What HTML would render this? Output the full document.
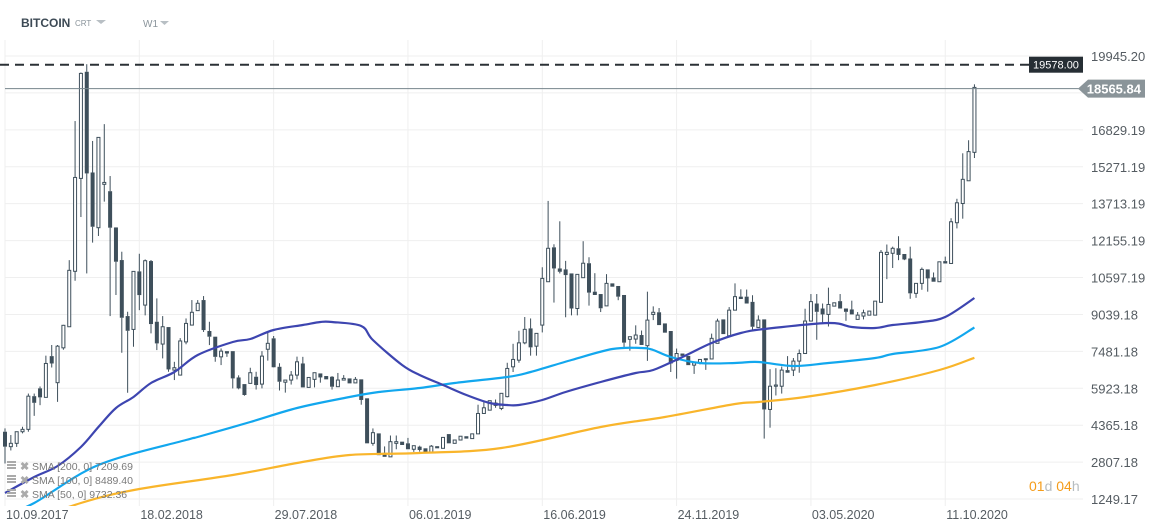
<!DOCTYPE html>
<html><head><meta charset="utf-8">
<style>
html,body{margin:0;padding:0;background:#fff;}
body{width:1151px;height:529px;overflow:hidden;position:relative;font-family:"Liberation Sans",sans-serif;}
svg{position:absolute;left:0;top:0;}
</style></head>
<body>
<svg id="chart" width="1151" height="529" viewBox="0 0 1151 529">
  <g id="grid"></g>
  <g id="candles"></g>
  <g id="smas"></g>
  <g id="yaxis"></g>
  <g id="xaxis"></g>
  <g>
    <text x="21" y="27" font-size="12" font-weight="bold" fill="#3d4a55">BITCOIN</text>
    <text x="75" y="26" font-size="8" fill="#8a949b">CRT</text>
    <path d="M96 20 L106 20 L101 24 Z" fill="#b8bfc4"/>
    <text x="143" y="27" font-size="10" fill="#8a949b">W1</text>
    <path d="M160 21 L169 21 L164.5 25 Z" fill="#b8bfc4"/>
  </g>
  <g font-size="14">
    <text x="1029" y="491"><tspan fill="#f59c1a">01</tspan><tspan fill="#b6bcc0">d </tspan><tspan fill="#f59c1a">04</tspan><tspan fill="#b6bcc0">h</tspan></text>
  </g>
  <g id="legend" font-size="10.5" fill="#7a7a7a"></g>
</svg>
<script>
const NS='http://www.w3.org/2000/svg';
// ---- data ----
const opens=[4090,3460,3600,4090,4190,5590,5920,5540,7280,6160,7630,8520,10860,14780,19280,15030,12700,14530,14240,12710,11334,8970,8407,10856,9434,11292,8731,7789,8506,6690,6480,7880,8590,9200,9646,8340,8100,7250,7490,7490,6380,6100,6130,6410,
6100,7570,8030,6830,6180,6270,6480,6970,5960,6300,6550,6440,6410,5990,6270,6340,6150,6300,5500,3600,4020,3200,3030,3600,3670,3600,3350,3460,3390,3200,3480,3390,3990,3600,3740,3900,3800,4000,4860,5000,5200,5070,
5570,6830,7110,7840,8450,7700,8590,10420,11870,10980,10940,10770,9290,10590,11200,10000,9900,9400,10350,10240,9860,7990,8000,8170,7720,9040,9130,8660,8340,7100,7390,7290,6900,7000,7140,7160,7820,8830,8140,9220,
9790,9790,9570,8490,8830,5030,6010,6010,6690,6690,7070,7390,8760,9500,9290,9040,9390,9600,9290,9250,8830,8970,9010,9010,9550,11570,11620,11830,11590,11400,9930,10350,10940,10600,10420,11290,11190,12910,13720,14680,15880];
const highs=[4230,3950,4100,4300,5700,5700,6000,7300,7750,7750,8600,11330,17200,19250,19600,16360,16510,17070,14880,12713,11686,9153,10856,11600,11360,11334,9716,8970,8506,7040,8040,8870,9646,9646,9815,8730,8100,7605,7490,7490,6470,6100,6790,6620,
7490,8300,8130,6980,6270,6650,7260,7250,6380,6580,6550,6440,6440,6570,6480,6340,6400,6300,5500,4230,4020,3470,3930,3930,3670,3830,3500,3500,3390,3530,3480,3850,3990,3740,3900,3900,4000,5230,5360,5400,5450,5710,
7000,7800,8350,8930,8870,8240,11030,13830,12000,12970,11300,10770,10730,12130,11450,10780,9900,10740,10350,10240,9860,8100,8580,8360,10000,9380,9310,8660,8340,7600,7390,7290,7000,7140,7170,8230,8860,8830,9350,10350,
10100,10090,9850,9000,8830,6730,6770,6840,7280,7200,7560,9280,9900,9900,9500,10170,9530,9900,9290,9620,9140,9240,9180,9600,11760,11990,11900,12340,11360,11900,10350,11020,10940,10810,11260,11480,13100,13920,15840,16390,18750];
const lows=[2750,3300,3450,4020,4090,4760,5210,5540,6800,5350,7550,8520,10460,13150,10770,12070,12350,13800,8970,9860,7422,5734,7676,9220,9000,8240,7535,7184,6620,6270,6460,7780,8590,9200,8300,7746,7043,6902,7250,5917,5880,5610,6130,5870,
5920,7090,6800,5830,5740,6080,6300,5960,5960,5960,6160,6300,5870,5990,6270,6130,6150,5230,3600,3500,3100,3030,3030,3350,3530,3350,3240,3250,3200,3200,3390,3390,3600,3600,3740,3800,3800,4000,4860,5000,5100,5000,
5540,6610,7000,7780,7300,7300,8280,10420,9540,10770,8920,9000,9000,10590,9410,9860,9140,9400,10210,9640,7650,7510,7800,7750,7080,8800,8590,8270,6610,6330,7290,6900,6530,6930,6700,7160,7820,8210,8140,9220,
9690,9500,8380,8490,3800,4260,5620,5700,6580,6440,6580,7390,8760,7970,8700,8530,9390,9290,8770,9040,8830,8830,9010,9010,9550,10530,11000,11330,11330,9700,9740,10080,10000,10420,10420,11190,11190,12670,13080,15700,15640];
const closes=[3460,3600,4090,4190,5590,5310,5540,6970,6970,7700,8580,10900,14820,19210,14990,12740,16510,14610,12700,11264,8900,8350,10856,9856,11306,8633,7817,8520,6719,6790,7920,8660,9130,9510,8380,8100,7250,7490,7390,6340,5920,5640,6580,6060,
7280,7820,6810,6200,6270,6480,7040,5960,6380,6580,6380,6300,5990,6270,6340,6130,6300,5430,3600,4050,3100,3030,3670,3670,3530,3350,3500,3320,3200,3480,3390,3850,3600,3740,3900,3800,4000,4860,5100,5400,5300,5710,
6760,7140,7840,8410,7650,8240,10560,11830,10980,10840,10700,9290,10730,11200,9960,9860,9300,10350,10210,9790,7850,8100,8170,7750,8800,9130,8590,8270,6970,7390,7290,6900,7000,7140,7170,8030,8760,8210,9220,9790,
9690,9500,8520,8800,5030,6010,6060,6690,6580,7070,7390,8760,9580,9150,9040,9460,9530,9290,9150,9040,9010,9110,9180,9600,11660,11660,11830,11550,11360,9930,10350,10940,10560,10420,11260,11190,12950,13750,14740,15910,18620];
const sma50Idx=[0,5,9,13,16,19,22,25,29,33,39,42,46,51,54,56,61,63,68,71,75,79,83,86,88,92,96,102,108,111,116,121,126,130,141,145,149,152,157,161,166];
const sma50=[1504,2179,2643,3445,4289,5091,5555,6146,6610,7327,7876,8002,8382,8593,8720,8720,8551,7960,6905,6483,6061,5639,5302,5217,5217,5428,5766,6188,6568,6694,7243,7834,8256,8424,8678,8509,8467,8593,8720,8931,9732];
const sma100Idx=[0,5,16,31,33,42,50,59,64,71,77,86,90,97,104,109,111,114,119,125,129,135,141,149,152,160,166];
const sma100=[575,1082,2685,3740,3867,4500,5091,5555,5766,5935,6146,6399,6610,7116,7580,7623,7538,7243,6990,6990,7032,6863,6990,7201,7369,7665,8489];
const sma200Idx=[0,13,23,39,50,59,71,85,102,113,125,129,137,149,160,166];
const sma200=[-58,1082,1672,2263,2770,3107,3192,3403,4289,4711,5259,5344,5555,6061,6694,7210];
const yTicks=[19945.20,18387.20,16829.19,15271.19,13713.19,12155.19,10597.19,9039.18,7481.18,5923.18,4365.18,2807.18,1249.17];
const xLabels=['10.09.2017','18.02.2018','29.07.2018','06.01.2019','16.06.2019','24.11.2019','03.05.2020','11.10.2020'];
const xLabelIdx=[0,23,46,69,92,115,138,161];
const lastPrice=18565.84;
const maxPrice=19578.00;
// ---- scales ----
const X=i=>5+5.84*i;
const Y=v=>56+(19945.2-v)/1558.0*36.92;
function mk(tag,attrs,parent){const e=document.createElementNS(NS,tag);for(const k in attrs)e.setAttribute(k,attrs[k]);parent.appendChild(e);return e;}
const grid=document.getElementById('grid');
yTicks.forEach((t,k)=>{
  const l=mk('line',{x1:5,x2:1083,y1:Y(t),y2:Y(t),stroke:'#efefef','stroke-width':1},grid);
  
  
});
xLabelIdx.forEach(i=>{
  const l=mk('line',{x1:X(i),x2:X(i),y1:40,y2:506,stroke:'#efefef','stroke-width':1},grid);
  
  
});
const ya=document.getElementById('yaxis');
yTicks.forEach((t,k)=>{
  if(k===1)return;
  const tx=mk('text',{x:1091,y:Y(t)+5,'font-size':13,fill:'#555c62'},ya);
  tx.textContent=t.toFixed(2);
  
  
});
const xa=document.getElementById('xaxis');
xLabels.forEach((s,k)=>{
  const tx=mk('text',{x:X(xLabelIdx[k])+1,y:519,'font-size':12.5,fill:'#555c62'},xa);
  tx.textContent=s;
  
  
});
// candles
const cg=document.getElementById('candles');
const col='#3e4f5b';
closes.forEach((c,i)=>{
  const o=opens[i],h=highs[i],l=lows[i],x=X(i);
  const g=mk('g',{},cg);
  
  
  const top=Math.min(Y(o),Y(c)),bot=Math.max(Y(o),Y(c));
  mk('line',{x1:x,x2:x,y1:Y(h),y2:top,stroke:col,'stroke-width':1},g);
  mk('line',{x1:x,x2:x,y1:bot,y2:Y(l),stroke:col,'stroke-width':1},g);
  if(c>=o){mk('rect',{x:x-1.5,y:top,width:3,height:Math.max(bot-top,1),fill:'#fff',stroke:col,'stroke-width':1},g);}
  else{mk('rect',{x:x-2,y:top,width:4,height:Math.max(bot-top,1.5),fill:col},g);}
});
// smas (smooth catmull-rom through sampled points)
const sg=document.getElementById('smas');
const cp=mk('clipPath',{id:'plotclip'},sg);mk('rect',{x:0,y:40,width:1085,height:466},cp);
function smooth(pts){
  let d='M'+pts[0][0].toFixed(1)+' '+pts[0][1].toFixed(1);
  for(let k=0;k<pts.length-1;k++){
    const p0=pts[Math.max(k-1,0)],p1=pts[k],p2=pts[k+1],p3=pts[Math.min(k+2,pts.length-1)];
    const c1=[p1[0]+(p2[0]-p0[0])/6,p1[1]+(p2[1]-p0[1])/6];
    const c2=[p2[0]-(p3[0]-p1[0])/6,p2[1]-(p3[1]-p1[1])/6];
    d+=' C'+c1[0].toFixed(1)+' '+c1[1].toFixed(1)+' '+c2[0].toFixed(1)+' '+c2[1].toFixed(1)+' '+p2[0].toFixed(1)+' '+p2[1].toFixed(1);
  }
  return d;
}
[[sma200Idx,sma200,'#f9b52b','sma-200-line'],[sma100Idx,sma100,'#12a7ee','sma-100-line'],[sma50Idx,sma50,'#3d45b0','sma-50-line']].forEach(([idx,arr,c,n])=>{
  const pts=idx.map((i,k)=>[X(i),Y(arr[k])]);
  const p=mk('path',{d:smooth(pts),fill:'none',stroke:c,'stroke-width':2.2,'stroke-linejoin':'round','clip-path':'url(#plotclip)'},sg);
  
  
});
// reference lines
const svg=document.getElementById('chart');
const dl=mk('line',{x1:0,x2:1029,y1:Y(maxPrice),y2:Y(maxPrice),stroke:'#2b3136','stroke-width':2,'stroke-dasharray':'9 6'},svg);


const mb=mk('rect',{x:1029,y:Y(maxPrice)-8,width:54,height:16,fill:'#262e34'},svg);


const mt=mk('text',{x:1056,y:Y(maxPrice)+4,'font-size':11,fill:'#fff','text-anchor':'middle'},svg);
mt.textContent=maxPrice.toFixed(2);


const ll=mk('line',{x1:5,x2:1083,y1:Y(lastPrice),y2:Y(lastPrice),stroke:'#76848c','stroke-width':1},svg);


const yl=Y(lastPrice);
const lp=mk('path',{d:`M1078 ${yl} L1088 ${yl-9} L1145 ${yl-9} L1145 ${yl+9} L1088 ${yl+9} Z`,fill:'#8a9499'},svg);


const lt=mk('text',{x:1141,y:yl+5,'font-size':13,'font-weight':'bold',fill:'#fff','text-anchor':'end'},svg);
lt.textContent=lastPrice.toFixed(2);


// legend
const lg=document.getElementById('legend');
const legTexts=['SMA [200,  0] 7209.69','SMA [100,  0] 8489.40','SMA [50,  0] 9732.36'];
legTexts.forEach((s,k)=>{
  const y=469+k*14;
  const g=mk('g',{},lg);
  
  
  mk('rect',{x:7,y:y-8,width:9,height:2,fill:'#aaa'},g);
  mk('rect',{x:7,y:y-5,width:9,height:2,fill:'#aaa'},g);
  mk('rect',{x:7,y:y-2,width:9,height:2,fill:'#aaa'},g);
  const t=mk('text',{x:20,y:y+1,'font-size':11,fill:'#aaa','font-weight':'bold'},g);t.textContent='✖';
  const t2=mk('text',{x:32,y:y+1},g);t2.textContent=s;
});
</script>
</body></html>
